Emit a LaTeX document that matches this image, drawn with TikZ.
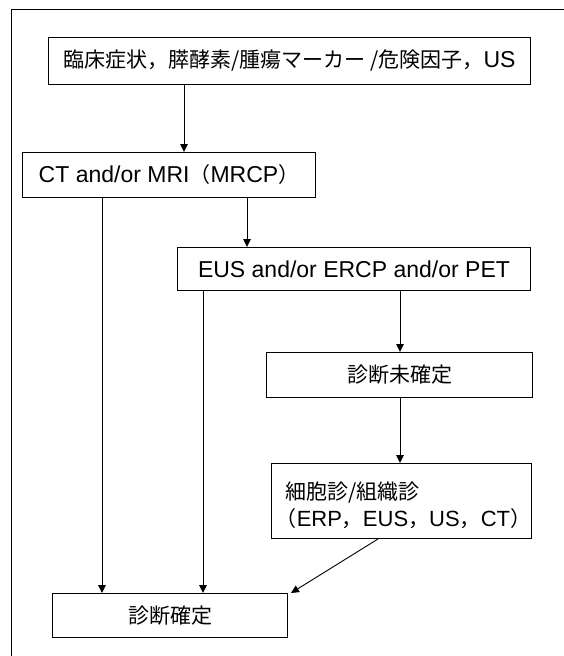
\documentclass[tikz,border=0pt]{standalone}
\usepackage{fontspec}
\setmainfont{Liberation Sans}
\newfontfamily\cjk{Noto Sans CJK JP}
\newcommand\jtxt[1]{{\cjk\fontsize{21}{26}\selectfont #1}}
\usetikzlibrary{arrows.meta}
\tikzset{
  box/.style={draw, line width=1pt, anchor=north west, inner sep=0pt, font=\fontsize{23}{27}\selectfont},
  lbl/.style={anchor=west, inner sep=0pt, align=left, font=\fontsize{22}{27}\selectfont},
  arr/.style={line width=0.9pt, -{Triangle[length=8pt,width=7.5pt]}},
  frame/.style={line width=1pt}
}
\begin{document}
\begin{tikzpicture}[x=1pt,y=-1pt]
\useasboundingbox (0,0) rectangle (564,656);
\draw[frame] (564,9) -- (11,9) -- (11,656);
\node[box, minimum width=482pt, minimum height=47pt] (b1) at (48,37) {\jtxt{臨床症状，膵酵素/腫瘍マーカー /危険因子，}US};
\node[box, minimum width=293pt, minimum height=45pt] (b2) at (22,152) {CT and/or MRI\jtxt{（}MRCP\jtxt{）}};
\node[box, minimum width=353pt, minimum height=43pt] (b3) at (177,247) {EUS and/or ERCP and/or PET};
\node[box, minimum width=266pt, minimum height=45pt] (b4) at (266,352) {\jtxt{診断未確定}};
\node[box, minimum width=260pt, minimum height=75pt] (b5) at (271,463) {};
\node[lbl] (b5t) at ([xshift=14pt,yshift=-4pt]b5.west) {\jtxt{細胞診/組織診}\\\jtxt{\hspace*{-0.45em}（}ERP\jtxt{，}EUS\jtxt{，}US\jtxt{，}CT\jtxt{）}};
\node[box, minimum width=235pt, minimum height=44pt] (b6) at (52,593) {\jtxt{診断確定}};
\coordinate (xa) at (184,0);
\coordinate (xb) at (102,0);
\coordinate (xc) at (247,0);
\coordinate (xd) at (203,0);
\coordinate (xe) at (400,0);
\coordinate (xf) at (378,0);
\draw[arr] (xa |- b1.south) -- (xa |- b2.north);
\draw[arr] (xb |- b2.south) -- (xb |- b6.north);
\draw[arr] (xc |- b2.south) -- (xc |- b3.north);
\draw[arr] (xd |- b3.south) -- (xd |- b6.north);
\draw[arr] (xe |- b3.south) -- (xe |- b4.north);
\draw[arr] (xe |- b4.south) -- (xe |- b5.north);
\draw[arr] (xf |- b5.south) -- ([xshift=3pt]b6.north east);
\end{tikzpicture}
\end{document}
